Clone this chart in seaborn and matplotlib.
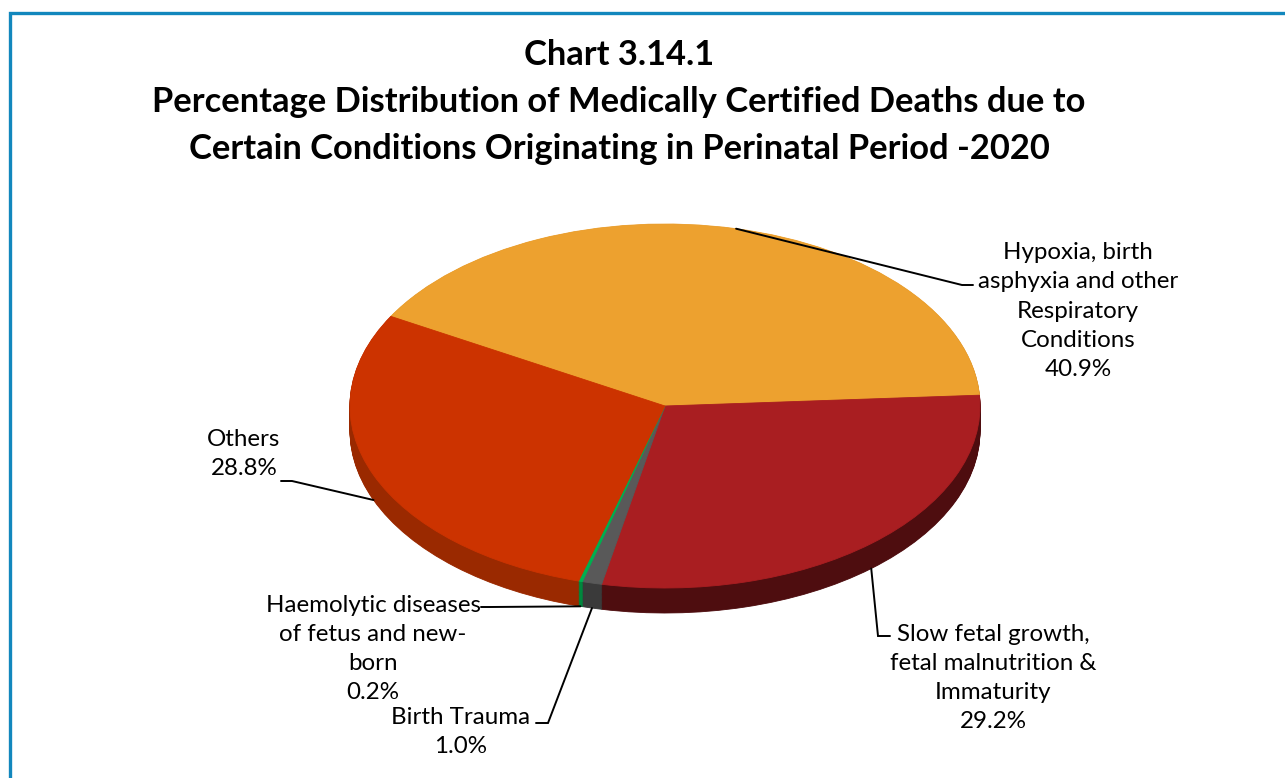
import matplotlib
matplotlib.use('Agg')
import matplotlib.pyplot as plt
import numpy as np
import seaborn as sns
from matplotlib.patches import Rectangle

categories = ['Hypoxia, birth\nasphyxia and other\nRespiratory\nConditions',
              'Slow fetal growth,\nfetal malnutrition &\nImmaturity',
              'Birth Trauma',
              'Haemolytic diseases\nof fetus and new-\nborn',
              'Others']
values = [40.9, 29.2, 1.0, 0.2, 28.8]
top_colors = ['#EDA12F', '#A91E21', '#595959', '#00B050', '#CC3300']
side_colors = ['#B87420', '#4E0D0F', '#3A3A3A', '#00873D', '#9A2900']

title = ('Chart 3.14.1\n'
         'Percentage Distribution of Medically Certified Deaths due to\n'
         'Certain Conditions Originating in Perinatal Period -2020')

sns.set_theme(style='white')
plt.rcParams['font.family'] = ['Lato', 'DejaVu Sans']

W, H = 1285, 778
CX, CY, RX, RY, DEPTH = 665, 406, 315, 182, 25
start = 150.5

fig = plt.figure(figsize=(W / 100, H / 100), dpi=100)
ax = fig.add_axes([0, 0, 1, 1])


def to_data(px, py):
    return ((px - CX) / RX, (CY - py) / RY)


def draw_pie(cols, dy):
    wedges, _ = ax.pie(values, colors=cols, startangle=start, counterclock=False,
                       center=(0, dy), radius=1, wedgeprops=dict(linewidth=0.6))
    for w in wedges:
        w.set_edgecolor(w.get_facecolor())


depth = DEPTH / RY
# side wall of the 3D pie: stacked, darker copies shifted downwards
for k in np.linspace(depth, 0.5 / RY, 30):
    draw_pie(side_colors, -k)
# top face
draw_pie(top_colors, 0)

ax.set_aspect('auto')
ax.set_xlim(-CX / RX, (W - CX) / RX)
ax.set_ylim((CY - H) / RY, CY / RY)
ax.axis('off')

# labels: text centre and elbow of leader line (pixel layout)
label_pos = [(1078, 311), (993, 678), (461, 732), (373, 649), (244, 454)]
elbows = [((962, 285), (973, 285)),
          ((878, 636), (890, 636)),
          ((548, 723), (536, 723)),
          ((490, 607), (481, 607)),
          ((292, 481), (281, 481))]

total = sum(values)
cum = 0
for name, v, (tx, ty), (e1, e2) in zip(categories, values, label_pos, elbows):
    mid = np.deg2rad(start - 360 * (cum + v / 2) / total)
    cum += v
    ax_x, ax_y = np.cos(mid), np.sin(mid)
    if ax_y < 0:
        ax_y -= depth
    p1 = to_data(*e1)
    p2 = to_data(*e2)
    ax.plot([ax_x, p1[0], p2[0]], [ax_y, p1[1], p2[1]], color='black', lw=1.4,
            solid_joinstyle='miter')
    x, y = to_data(tx, ty)
    ax.text(x, y, f'{name}\n{v:.1f}%', ha='center', va='center',
            fontsize=17.4, linespacing=1.48, color='black')

fig.text(619 / W, 1 - 102 / H, title, ha='center', va='center',
         fontsize=24.8, fontweight='bold', linespacing=1.57, color='black')

fig.patches.append(Rectangle((10 / W, -0.1), 1.2, 1 - 13 / H + 0.1,
                             transform=fig.transFigure, fill=False,
                             edgecolor='#1287BD', linewidth=2.4))

fig.savefig('out.png', dpi=100)
